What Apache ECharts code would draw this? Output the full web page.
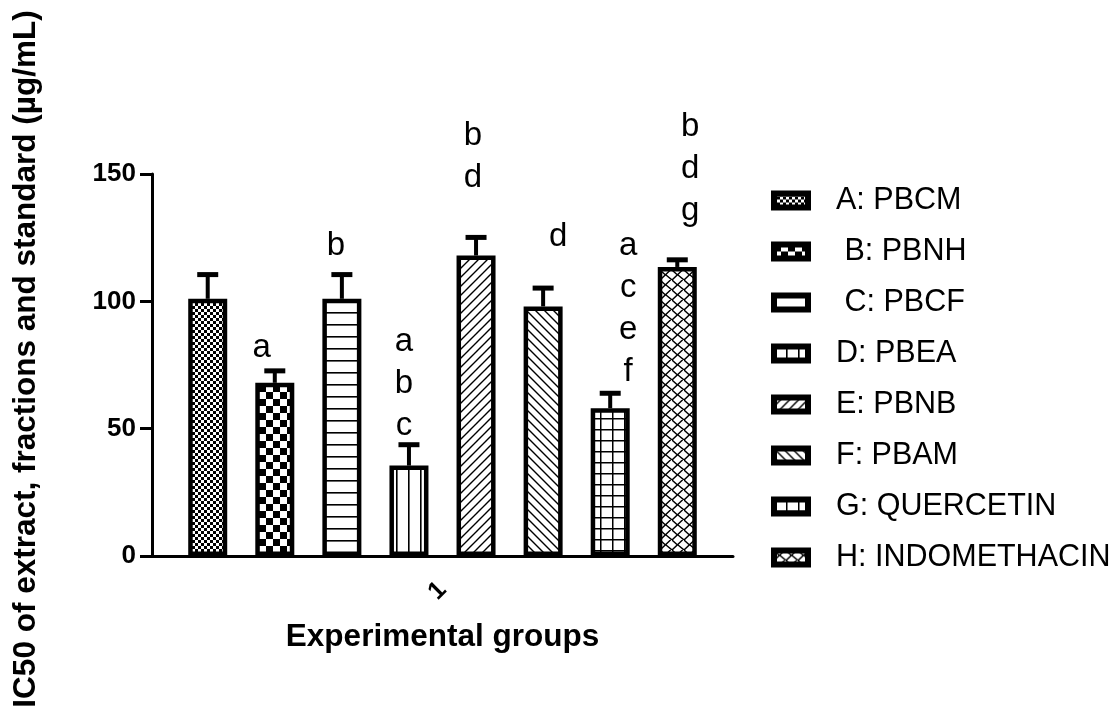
<!DOCTYPE html>
<html>
<head>
<meta charset="utf-8">
<script src="https://cdn.jsdelivr.net/npm/echarts@6/dist/echarts.min.js"></script>
<style>
  html, body { margin: 0; padding: 0; background: #fff; }
  #chart { width: 1116px; height: 715px; }
</style>
</head>
<body>
<div id="chart"></div>
<script>
// ---- data ----
const categories = ['1'];
const groupNames = ['A: PBCM', ' B: PBNH', ' C: PBCF', 'D: PBEA', 'E: PBNB', 'F: PBAM', 'G: QUERCETIN', 'H: INDOMETHACIN'];
const meanIC50 = [101, 68, 101, 35.5, 118, 98, 58, 113.5];
const sdIC50 = [9.5, 4.7, 9.5, 8.2, 7.1, 7.2, 5.9, 2.8];
const sigLetters = ['', 'a', 'b', 'a\nb\nc', 'b\nd', 'd', 'a\nc\ne\nf', 'b\nd\ng'];

// ---- layout / style ----
const FONT = "'Liberation Sans', Arial, Helvetica, sans-serif";
const BAR_W = 39;
const BAR_GAP = 0.72;          // fraction of bar width
const LETTER_LH = 42;
// letter placement: [dx from bar centre, gap between error cap and last baseline]
const letterPlacement = [[0, 0], [-13, 12], [-6, 18], [-5, 8], [-3, 49], [15, 40], [18, 10], [13, 38]];

function makePattern(w, h, draw) {
  const c = document.createElement('canvas');
  c.width = w; c.height = h;
  const g = c.getContext('2d');
  g.fillStyle = '#fff';
  g.fillRect(0, 0, w, h);
  g.fillStyle = '#000';
  g.strokeStyle = '#000';
  draw(g, w, h);
  return { image: c, repeat: 'repeat' };
}

const patterns = [
  // A: fine checkerboard
  makePattern(6, 6, (g) => { g.fillRect(0, 0, 3, 3); g.fillRect(3, 3, 3, 3); }),
  // B: coarse checkerboard
  makePattern(14, 14, (g) => { g.fillRect(0, 0, 7, 7); g.fillRect(7, 7, 7, 7); }),
  // C: horizontal lines
  makePattern(12, 12, (g) => { g.fillRect(0, 0, 12, 1.6); }),
  // D: vertical lines
  makePattern(12, 12, (g) => { g.fillRect(0, 0, 1.6, 12); }),
  // E: forward diagonals
  makePattern(9, 9, (g) => {
    g.lineWidth = 1.4;
    g.beginPath();
    g.moveTo(-1, 10); g.lineTo(10, -1);
    g.moveTo(-2, 2); g.lineTo(2, -2);
    g.moveTo(7, 11); g.lineTo(11, 7);
    g.stroke();
  }),
  // F: back diagonals
  makePattern(9, 9, (g) => {
    g.lineWidth = 1.4;
    g.beginPath();
    g.moveTo(-1, -1); g.lineTo(10, 10);
    g.moveTo(7, -2); g.lineTo(11, 2);
    g.moveTo(-2, 7); g.lineTo(2, 11);
    g.stroke();
  }),
  // G: square grid
  makePattern(12, 11, (g) => { g.fillRect(0, 0, 1.5, 11); g.fillRect(0, 0, 12, 1.5); }),
  // H: woven diagonal bricks
  makePattern(12, 10, (g) => {
    g.lineWidth = 1.4;
    g.beginPath();
    g.moveTo(-1, 11); g.lineTo(11.5, -1);
    g.moveTo(11, 11); g.lineTo(13, 9);
    g.moveTo(-1, 1); g.lineTo(1, -1);
    g.moveTo(0, 0); g.lineTo(5.5, 5);
    g.moveTo(6, 5); g.lineTo(12, 10);
    g.stroke();
  })
];

const chart = echarts.init(document.getElementById('chart'), null, { renderer: 'canvas' });

const barSeries = groupNames.map((name, i) => ({
  name: name,
  type: 'bar',
  data: [meanIC50[i]],
  barWidth: BAR_W,
  barGap: (BAR_GAP * 100) + '%',
  itemStyle: { color: patterns[i], borderColor: '#000', borderWidth: 4.5 },
  emphasis: { disabled: true },
  z: 3
}));

// error bars (upper SD) and significance letters
const errorSeries = {
  type: 'custom',
  name: 'sd',
  z: 5,
  silent: true,
  data: meanIC50.map((m, i) => [0, m, m + sdIC50[i], i]),
  encode: { x: 0, y: 2 },
  renderItem: function (params, api) {
    const i = api.value(3);
    const pitch = BAR_W * (1 + BAR_GAP);
    const base = api.coord([0, api.value(1)]);
    const cap = api.coord([0, api.value(2)]);
    const x = base[0] + (i - (groupNames.length - 1) / 2) * pitch;
    const children = [
      { type: 'line', shape: { x1: x, y1: base[1], x2: x, y2: cap[1] }, style: { stroke: '#000', lineWidth: 4 } },
      { type: 'line', shape: { x1: x - 10.5, y1: cap[1], x2: x + 10.5, y2: cap[1] }, style: { stroke: '#000', lineWidth: 5 } }
    ];
    const txt = sigLetters[i];
    if (txt) {
      const p = letterPlacement[i];
      children.push({
        type: 'text',
        style: {
          text: txt,
          x: x + p[0],
          y: cap[1] - p[1] + 10,
          align: 'center',
          verticalAlign: 'bottom',
          fontFamily: FONT,
          fontSize: 33,
          lineHeight: LETTER_LH,
          fill: '#000'
        }
      });
    }
    return { type: 'group', children: children };
  }
};

const option = {
  animation: false,
  backgroundColor: '#fff',
  grid: { left: 152, right: 383, top: 174, bottom: 159, containLabel: false },
  legend: {
    orient: 'vertical',
    left: 766,
    top: 180,
    icon: 'rect',
    itemWidth: 34,
    itemHeight: 14,
    itemGap: 20,
    selectedMode: false,
    data: groupNames,
    itemStyle: { borderColor: '#000', borderWidth: 6 },
    textStyle: { fontFamily: FONT, fontSize: 30.5, color: '#000', lineHeight: 30, padding: [0, 0, 0, 23] }
  },
  xAxis: {
    type: 'category',
    data: categories,
    name: 'Experimental groups',
    nameLocation: 'middle',
    nameGap: 65,
    nameTextStyle: { fontFamily: FONT, fontSize: 31.5, fontWeight: 'bold', color: '#000' },
    axisLine: { lineStyle: { color: '#000', width: 3 } },
    axisTick: { alignWithLabel: true, length: 10, lineStyle: { color: '#000', width: 3 } },
    axisLabel: { rotate: 45, margin: 30, fontFamily: FONT, fontSize: 25, fontWeight: 'bold', color: '#000' },
    splitLine: { show: false }
  },
  yAxis: {
    type: 'value',
    min: 0,
    max: 150,
    interval: 50,
    name: 'IC50 of extract, fractions and standard (µg/mL)',
    nameLocation: 'middle',
    nameGap: 110,
    nameTextStyle: { fontFamily: FONT, fontSize: 31.5, fontWeight: 'bold', color: '#000', padding: [0, 0, 0, 12] },
    axisLine: { show: true, lineStyle: { color: '#000', width: 3 } },
    axisTick: { show: true, length: 12, lineStyle: { color: '#000', width: 3 } },
    axisLabel: { margin: 16, fontFamily: FONT, fontSize: 26, fontWeight: 'bold', color: '#000' },
    splitLine: { show: false }
  },
  series: barSeries.concat([errorSeries])
};

chart.setOption(option);
</script>
</body>
</html>
